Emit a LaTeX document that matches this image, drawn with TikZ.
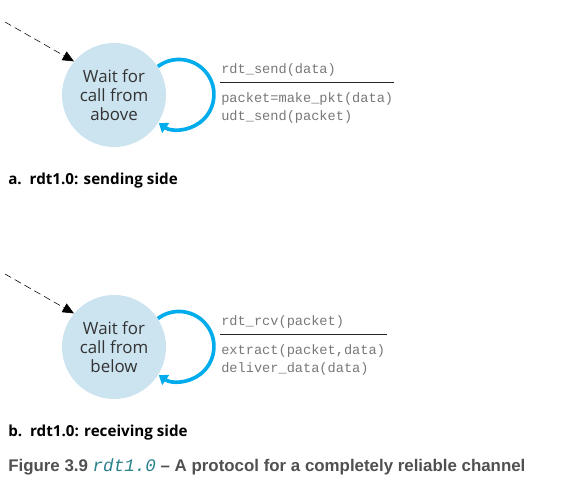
\documentclass[tikz,border=0pt]{standalone}
\usepackage{fontspec}
\setmainfont{Open Sans}
\newfontfamily\capfont{Liberation Sans}
\setmonofont{Liberation Mono}
\usetikzlibrary{arrows.meta,positioning}
\definecolor{statefill}{RGB}{204,227,240}
\definecolor{loopblue}{RGB}{0,172,236}
\definecolor{labelgray}{RGB}{120,120,120}
\definecolor{capgray}{RGB}{80,80,80}
\definecolor{capteal}{RGB}{40,128,140}
\begin{document}
\begin{tikzpicture}[x=0.025cm, y=-0.025cm,
    state/.style={circle, fill=statefill, minimum size=2.6cm, inner sep=0pt, align=center,
        font=\fontsize{12}{13.5}\selectfont, text=black!80},
    selfloop/.style={loopblue, line width=2.6pt, -{Triangle[length=6pt, width=8.5pt]}},
    startarrow/.style={dashed, dash pattern=on 5pt off 3pt, thin, -{Triangle[length=8pt, width=7pt]}},
    action/.style={font=\fontsize{9.7}{12.8}\selectfont\ttfamily, text=labelgray, anchor=west, inner sep=0pt},
    sublabel/.style={font=\fontsize{10.8}{12}\selectfont\bfseries, anchor=west, inner sep=0pt}
]
    \useasboundingbox (0,0) rectangle (584,492);

    % a. sending side
    \node[state] (s1) at (114,95) {Wait for\\call from\\above};
    \coordinate (in1) at (5,22);
    \draw[startarrow] (in1) -- (s1.140);
    \draw[selfloop] (s1.33) arc[start angle=-127, end angle=125, radius=35];
    \node[action] (ev1) at (221,70) {rdt\_send(data)};
    \coordinate (r1a) at (220,82);
    \coordinate (r1b) at (394,82);
    \draw[semithick, black!85] (r1a) -- (r1b);
    \node[action, align=left] (act1) at (221,108) {packet=make\_pkt(data)\\udt\_send(packet)};
    \node[sublabel] (lab1) at (8,181) {a.\ \ rdt1.0: sending side};

    % b. receiving side
    \node[state] (s2) at (114,347) {Wait for\\call from\\below};
    \coordinate (in2) at (5,274);
    \draw[startarrow] (in2) -- (s2.140);
    \draw[selfloop] (s2.33) arc[start angle=-127, end angle=125, radius=35];
    \node[action] (ev2) at (221,322) {rdt\_rcv(packet)};
    \coordinate (r2a) at (220,334);
    \coordinate (r2b) at (387,334);
    \draw[semithick, black!85] (r2a) -- (r2b);
    \node[action, align=left] (act2) at (221,360) {extract(packet,data)\\deliver\_data(data)};
    \node[sublabel] (lab2) at (8,433) {b.\ \ rdt1.0: receiving side};

    % caption
    \node[anchor=west, inner sep=0pt, text=capgray, font=\capfont\fontsize{12}{14}\selectfont\bfseries] (cap) at (8,467)
        {Figure 3.9 {\color{capteal}\mdseries\itshape\ttfamily\fontsize{12.5}{14}\selectfont rdt1.0} \textendash{} A protocol for a completely reliable channel};
\end{tikzpicture}
\end{document}
